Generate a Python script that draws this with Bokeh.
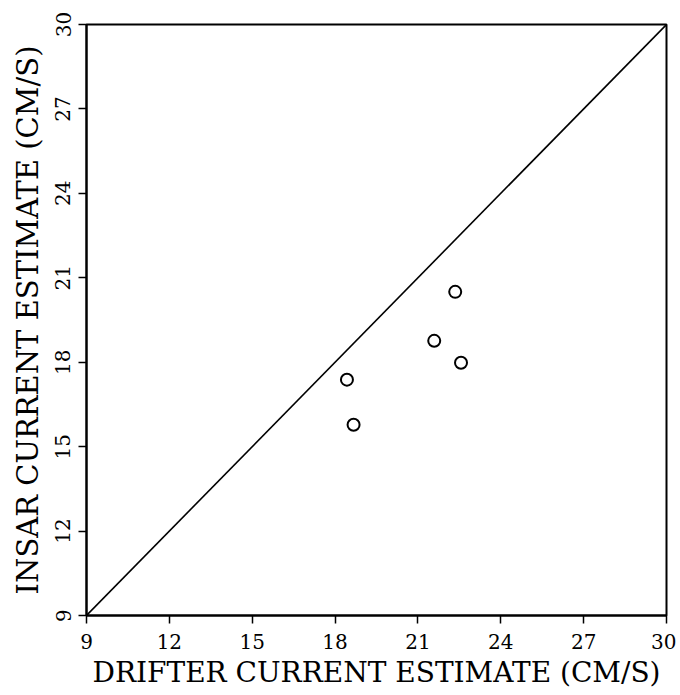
from bokeh.plotting import figure
from bokeh.models import Range1d, FixedTicker
from bokeh.embed import file_html
from bokeh.resources import INLINE

# Data
drifter = [18.43, 18.67, 21.59, 22.35, 22.56]
insar = [17.38, 15.78, 18.76, 20.50, 17.98]
diag = [9, 30]
ticks = [9, 12, 15, 18, 21, 24, 27, 30]

p = figure(width=676, height=694, output_backend="svg", toolbar_location=None,
           x_range=Range1d(9, 30), y_range=Range1d(9, 30),
           min_border_left=86, min_border_top=24, min_border_right=10, min_border_bottom=79)

p.line(diag, diag, line_color="black", line_width=1.6)
p.scatter(drifter, insar, marker="circle", size=12, fill_color=None,
          line_color="black", line_width=2)

p.grid.visible = False
p.outline_line_color = "black"
p.outline_line_width = 2
p.background_fill_color = "white"
p.border_fill_color = "white"

for ax in (p.xaxis[0], p.yaxis[0]):
    ax.ticker = FixedTicker(ticks=ticks)
    ax.axis_line_color = "black"
    ax.axis_line_width = 2
    ax.major_tick_line_color = "black"
    ax.major_tick_line_width = 1.5
    ax.major_tick_in = 0
    ax.major_tick_out = 8
    ax.minor_tick_line_color = None
    ax.major_label_text_font = "DejaVu Serif"
    ax.major_label_text_font_size = "20px"
    ax.major_label_text_color = "black"
    ax.axis_label_text_font = "DejaVu Serif"
    ax.axis_label_text_font_size = "28px"
    ax.axis_label_text_font_style = "normal"
    ax.axis_label_text_color = "black"

p.xaxis.axis_label = "DRIFTER CURRENT ESTIMATE (CM/S)"
p.yaxis.axis_label = "INSAR CURRENT ESTIMATE (CM/S)"
p.yaxis.axis_label_text_font_size = "29px"
p.xaxis.major_label_standoff = 10
p.xaxis.axis_label_standoff = 4
p.yaxis.major_label_standoff = 8
p.yaxis.axis_label_standoff = 8
p.yaxis.major_label_orientation = "vertical"

open("out.html", "w").write(file_html(p, INLINE))
